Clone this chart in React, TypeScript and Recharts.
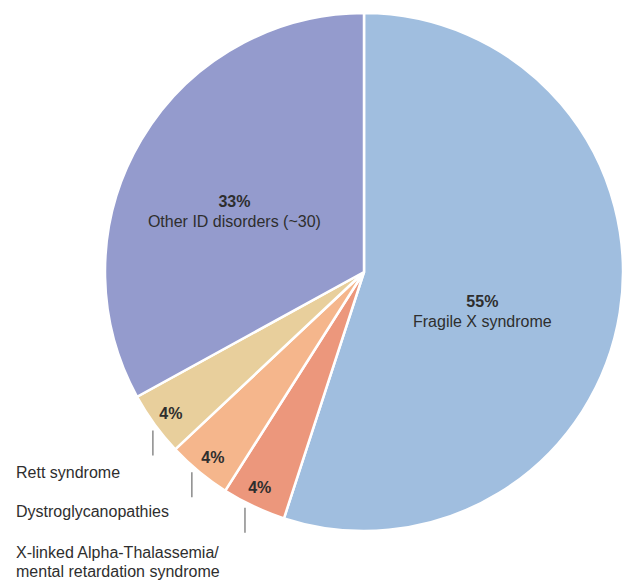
import React from "react";
import { PieChart, Pie, Cell } from "recharts";

const categories = [
  "Fragile X syndrome",
  "X-linked Alpha-Thalassemia/mental retardation syndrome",
  "Dystroglycanopathies",
  "Rett syndrome",
  "Other ID disorders (~30)",
];
const values = [55, 4, 4, 4, 33];
const nameLines = [
  ["Fragile X syndrome"],
  ["X-linked Alpha-Thalassemia/", "mental retardation syndrome"],
  ["Dystroglycanopathies"],
  ["Rett syndrome"],
  ["Other ID disorders (~30)"],
];
const colors = ["#a0bedf", "#ec977c", "#f5b68c", "#e8cf9c", "#949bcd"];
// label placement style
const labelStyle = [
  { inside: true, rf: 0.481, shift: -9.2, lineShift: 0, textOff: 0 },
  { inside: false, rf: 0.925, shift: -0.6, lineShift: -1.6, textOff: 25 },
  { inside: false, rf: 0.925, shift: 0.5, lineShift: -1.1, textOff: 20 },
  { inside: false, rf: 0.925, shift: 0.3, lineShift: 0.9, textOff: 22 },
  { inside: true, rf: 0.553, shift: 5.4, lineShift: 0, textOff: 0 },
];

const data = categories.map((c, i) => ({ name: c, value: values[i] }));

const RAD = Math.PI / 180;
const FONT = "Arial, 'Liberation Sans', sans-serif";
const TEXT = "#2e2e2e";

const renderLabel = (props: any) => {
  const { cx, cy, midAngle, outerRadius, index, value } = props;
  const st = labelStyle[index];
  const ang = midAngle + st.shift;
  const r = outerRadius * st.rf;
  const x = cx + Math.cos(-ang * RAD) * r;
  const y = cy + Math.sin(-ang * RAD) * r;
  if (st.inside) {
    const lines = nameLines[index];
    return (
      <g key={`lbl-${index}`}>
        <text x={x} y={y - 4} textAnchor="middle" fontFamily={FONT} fontSize={16} fontWeight="bold" fill={TEXT}>
          {`${value}%`}
        </text>
        {lines.map((l, k) => (
          <text key={k} x={x} y={y + 16 + k * 20} textAnchor="middle" fontFamily={FONT} fontSize={16} fill={TEXT}>
            {l}
          </text>
        ))}
      </g>
    );
  }
  const la = midAngle + st.lineShift;
  const lx = cx + Math.cos(-la * RAD) * (outerRadius + 5);
  const ly = cy + Math.sin(-la * RAD) * (outerRadius + 5);
  const ly2 = ly + 25;
  const lines = nameLines[index];
  return (
    <g key={`lbl-${index}`}>
      <text x={x} y={y} textAnchor="middle" dominantBaseline="central" fontFamily={FONT} fontSize={16} fontWeight="bold" fill={TEXT}>
        {`${value}%`}
      </text>
      <line x1={lx} y1={ly} x2={lx} y2={ly2} stroke="#8a8a8a" strokeWidth={1.5} />
      {lines.map((l, k) => (
        <text key={k} x={16} y={ly2 + st.textOff + k * 19} textAnchor="start" fontFamily={FONT} fontSize={16} fill={TEXT}>
          {l}
        </text>
      ))}
    </g>
  );
};

export default function App() {
  return (
    <div style={{ position: "absolute", left: 0, top: 0, width: 622, height: 581, background: "#fff" }}>
      <PieChart width={622} height={581} margin={{ top: 0, right: 0, bottom: 0, left: 0 }}>
        <Pie
          data={data}
          dataKey="value"
          nameKey="name"
          cx={364}
          cy={272}
          outerRadius={259}
          innerRadius={0}
          startAngle={90}
          endAngle={-270}
          stroke="#ffffff"
          strokeWidth={2.5}
          label={renderLabel}
          labelLine={false}
          isAnimationActive={false}
        >
          {data.map((d, i) => (
            <Cell key={d.name} fill={colors[i]} />
          ))}
        </Pie>
      </PieChart>
    </div>
  );
}
